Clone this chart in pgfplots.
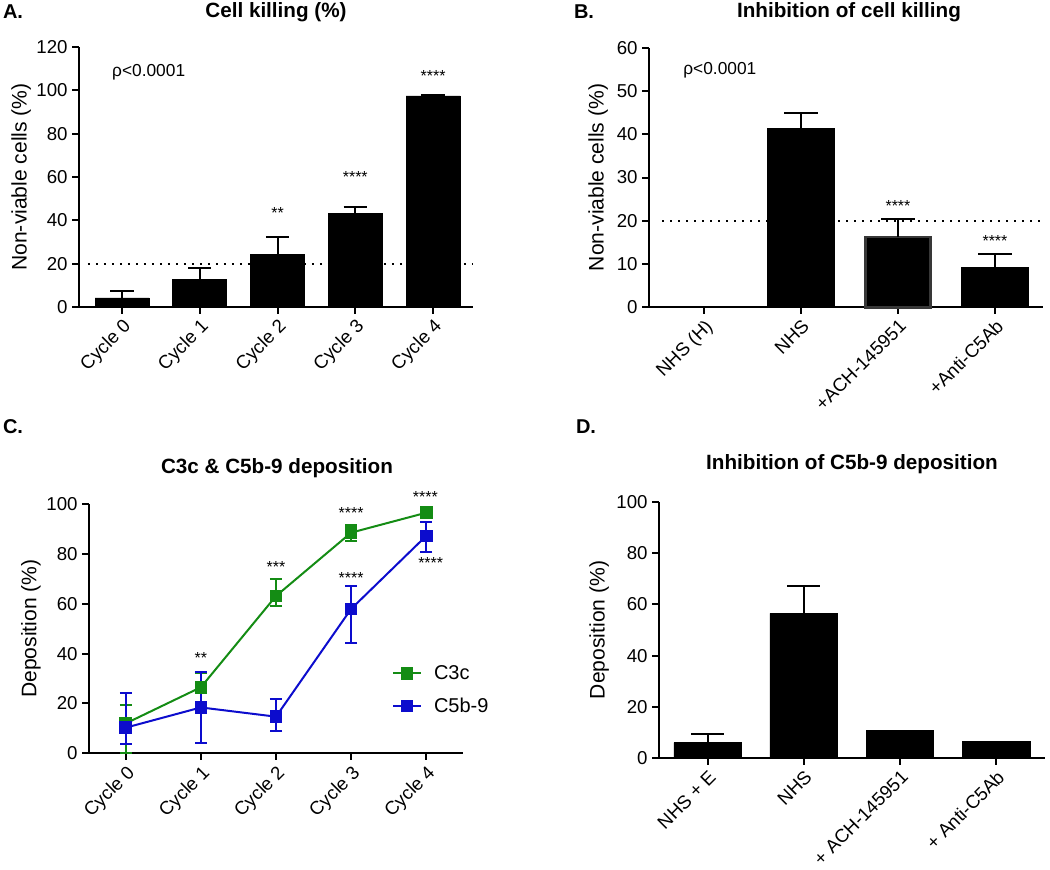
\documentclass[border=0pt]{standalone}
\usepackage{fontspec}
\setmainfont{Liberation Sans}
\usepackage{pgfplots}
\pgfplotsset{compat=1.18}
\usepackage{pgfplotstable}
\definecolor{cgreen}{RGB}{20,140,20}
\definecolor{cblue}{RGB}{12,12,205}
\newcommand{\fs}[1]{\fontsize{#1}{#1}\selectfont}

\pgfplotstableread{
x y e
0 4.2 3.3
1 12.8 5.1
2 24.3 7.9
3 43.2 3.1
4 97.4 0.4
}\dataA
\pgfplotstableread{
x y e
1 41.4 3.6
3 9.2 3.1
}\dataBblack
\pgfplotstableread{
x y e
2 16.2 4.1
}\dataBgray
\pgfplotstableread{
x y ep em
0 12.0 7.4 11.7
1 26.5 5.9 5.9
2 63.1 6.8 3.9
3 88.5 3.1 3.3
4 96.5 1.0 1.0
}\dataCgreen
\pgfplotstableread{
x y ep em
0 10.3 14.0 6.6
1 18.4 14.1 14.1
2 14.7 7.2 5.7
3 57.9 9.2 13.5
4 87.2 5.7 6.3
}\dataCblue
\pgfplotstableread{
x y e
0 6.1 3.4
1 56.5 10.6
}\dataDerr
\pgfplotstableread{
x y
2 10.8
3 6.5
}\dataDnoerr

\tikzset{star/.style={font=\fs{12},inner sep=0pt,anchor=center,yshift=-2.5pt}}
\pgfplotsset{
  gp/.style={
    scale only axis,
    axis x line*=bottom, axis y line*=left,
    axis line style={line width=1.5pt,-},
    tick style={line width=1.5pt,black},
    major tick length=5pt,
    tick align=outside,
    enlargelimits=false,
    clip=false,
    tick label style={font=\fs{14}},
    /pgf/number format/assume math mode=true,
    xticklabel style={rotate=45,anchor=north east,inner sep=2pt},
    xtick={0,...,4},
  },
}

\begin{document}
\begin{tikzpicture}
\useasboundingbox (0,0) rectangle (787.5pt,652.5pt);

% Panel labels and titles
\node[font=\bfseries\fs{15}] at (9.75pt,643.5pt) {A.};
\node[font=\bfseries\fs{15}] at (438pt,643.5pt) {B.};
\node[font=\bfseries\fs{15}] at (9.75pt,332.25pt) {C.};
\node[font=\bfseries\fs{15}] at (439.5pt,332.25pt) {D.};
\node[font=\bfseries\fs{15.5}] at (207pt,643.5pt) {Cell killing (\%)};
\node[font=\bfseries\fs{15.5}] at (636.75pt,643.5pt) {Inhibition of cell killing};
\node[font=\bfseries\fs{15.5}] at (207.75pt,301.5pt) {C3c \& C5b-9 deposition};
\node[font=\bfseries\fs{15.5}] at (639pt,304.5pt) {Inhibition of C5b-9 deposition};

% Panel A
\begin{axis}[gp,
  at={(59.25pt,422.25pt)}, anchor=south west,
  width=295.5pt, height=195pt,
  xmin=-0.553, xmax=4.514, ymin=0, ymax=120,
  ytick={0,20,...,120},
  xticklabels={Cycle 0,Cycle 1,Cycle 2,Cycle 3,Cycle 4},
  ylabel={Non-viable cells (\%)},
  every axis y label/.style={at={(axis description cs:-0.147,0.5)},rotate=90,anchor=center,font=\fs{15.8}},
  ybar, bar width=40.5pt,
]
\addplot[fill=black,draw=black,line width=0.5pt,
  error bars/.cd, y dir=plus, y explicit,
  error bar style={line width=1.5pt,black},
  error mark options={line width=1.5pt,mark size=8.8pt,black,rotate=90}]
  table[x=x,y=y,y error plus=e]{\dataA};
\draw[line width=1.5pt,dash pattern=on 1.5pt off 4.5pt] (axis cs:-0.44,20) -- (axis cs:4.514,20);
\node[font=\fs{13},anchor=west,inner sep=0pt] at (axis cs:-0.13,108.5) {ρ<0.0001};
\node[star] at (axis cs:2,44.8) {**};
\node[star] at (axis cs:3,61.4) {****};
\node[star] at (axis cs:4,108) {****};
\end{axis}

% Panel B
\begin{axis}[gp,
  at={(486.75pt,422pt)}, anchor=south west,
  width=295.5pt, height=194.7pt,
  xmin=-0.567, xmax=3.495, ymin=0, ymax=60,
  ytick={0,10,...,60},
  xtick={0,1,2,3},
  xticklabels={NHS (H),NHS,+ACH-145951,+Anti-C5Ab},
  ylabel={Non-viable cells (\%)},
  every axis y label/.style={at={(axis description cs:-0.129,0.5)},rotate=90,anchor=center,font=\fs{15.8}},
  ybar, bar width=50.25pt,
]
\addplot[fill=black,draw=black,line width=0.5pt,bar shift=0pt,
  error bars/.cd, y dir=plus, y explicit,
  error bar style={line width=1.5pt,black},
  error mark options={line width=1.5pt,mark size=12.5pt,black,rotate=90}]
  table[x=x,y=y,y error plus=e]{\dataBblack};
\addplot[fill=black,draw=black!78,line width=1.8pt,bar width=48.9pt,bar shift=0pt,
  error bars/.cd, y dir=plus, y explicit,
  error bar style={line width=1.5pt,black},
  error mark options={line width=1.5pt,mark size=12.5pt,black,rotate=90}]
  table[x=x,y=y,y error plus=e]{\dataBgray};
\draw[line width=1.5pt,dash pattern=on 1.5pt off 4.5pt] (axis cs:-0.43,20) -- (axis cs:3.495,20);
\node[font=\fs{13},anchor=west,inner sep=0pt] at (axis cs:-0.216,54.8) {ρ<0.0001};
\node[star] at (axis cs:2,24.3) {****};
\node[star] at (axis cs:3,16.1) {****};
\end{axis}

% Panel C
\begin{axis}[gp,
  at={(66.75pt,87.5pt)}, anchor=south west,
  width=280.5pt, height=187pt,
  xmin=-0.49, xmax=4.49, ymin=0, ymax=100,
  ytick={0,20,...,100},
  xticklabels={Cycle 0,Cycle 1,Cycle 2,Cycle 3,Cycle 4},
  ylabel={Deposition (\%)},
  every axis y label/.style={at={(axis description cs:-0.155,0.5)},rotate=90,anchor=center,font=\fs{15.8}},
  legend style={at={(0.81,0.365)},anchor=north west,draw=none,fill=none,
    font=\fs{15},row sep=8.5pt,inner sep=0pt},
  legend cell align=left,
  legend image code/.code={%
    \draw[mark repeat=2,mark phase=2] plot coordinates {(0cm,0cm) (0.36cm,0cm) (0.72cm,0cm)};
    \path (0.98cm,0cm);},
]
\addplot[cgreen,line width=1.5pt,mark=square*,mark size=4pt,mark options={solid},
  error bars/.cd, y dir=both, y explicit,
  error bar style={line width=1.5pt,cgreen},
  error mark options={line width=1.5pt,mark size=4.5pt,cgreen,rotate=90}]
  table[x=x,y=y,y error plus=ep,y error minus=em]{\dataCgreen};
\addlegendentry{C3c}
\addplot[cblue,line width=1.5pt,mark=square*,mark size=4pt,mark options={solid},
  error bars/.cd, y dir=both, y explicit,
  error bar style={line width=1.5pt,cblue},
  error mark options={line width=1.5pt,mark size=4.5pt,cblue,rotate=90}]
  table[x=x,y=y,y error plus=ep,y error minus=em]{\dataCblue};
\addlegendentry{C5b-9}
\node[star] at (axis cs:1,39.4) {**};
\node[star] at (axis cs:2,75.9) {***};
\node[star] at (axis cs:3,97.9) {****};
\node[star] at (axis cs:3,71.8) {****};
\node[star] at (axis cs:3.99,104.3) {****};
\node[star] at (axis cs:4.06,77.5) {****};
\end{axis}

% Panel D
\begin{axis}[gp,
  at={(494.25pt,83.75pt)}, anchor=south west,
  width=289.5pt, height=192.5pt,
  xmin=-0.507, xmax=3.51, ymin=0, ymax=100,
  ytick={0,20,...,100},
  xtick={0,1,2,3},
  xticklabels={NHS + E,NHS,+ ACH-145951,+ Anti-C5Ab},
  ylabel={Deposition (\%)},
  every axis y label/.style={at={(axis description cs:-0.155,0.5)},rotate=90,anchor=center,font=\fs{15.8}},
  ybar, bar width=50.8pt,
]
\addplot[fill=black,draw=black,line width=0.5pt,bar shift=0pt,
  error bars/.cd, y dir=plus, y explicit,
  error bar style={line width=1.5pt,black},
  error mark options={line width=1.5pt,mark size=12.5pt,black,rotate=90}]
  table[x=x,y=y,y error plus=e]{\dataDerr};
\addplot[fill=black,draw=black,line width=0.5pt,bar shift=0pt]
  table[x=x,y=y]{\dataDnoerr};
\end{axis}
\end{tikzpicture}
\end{document}
